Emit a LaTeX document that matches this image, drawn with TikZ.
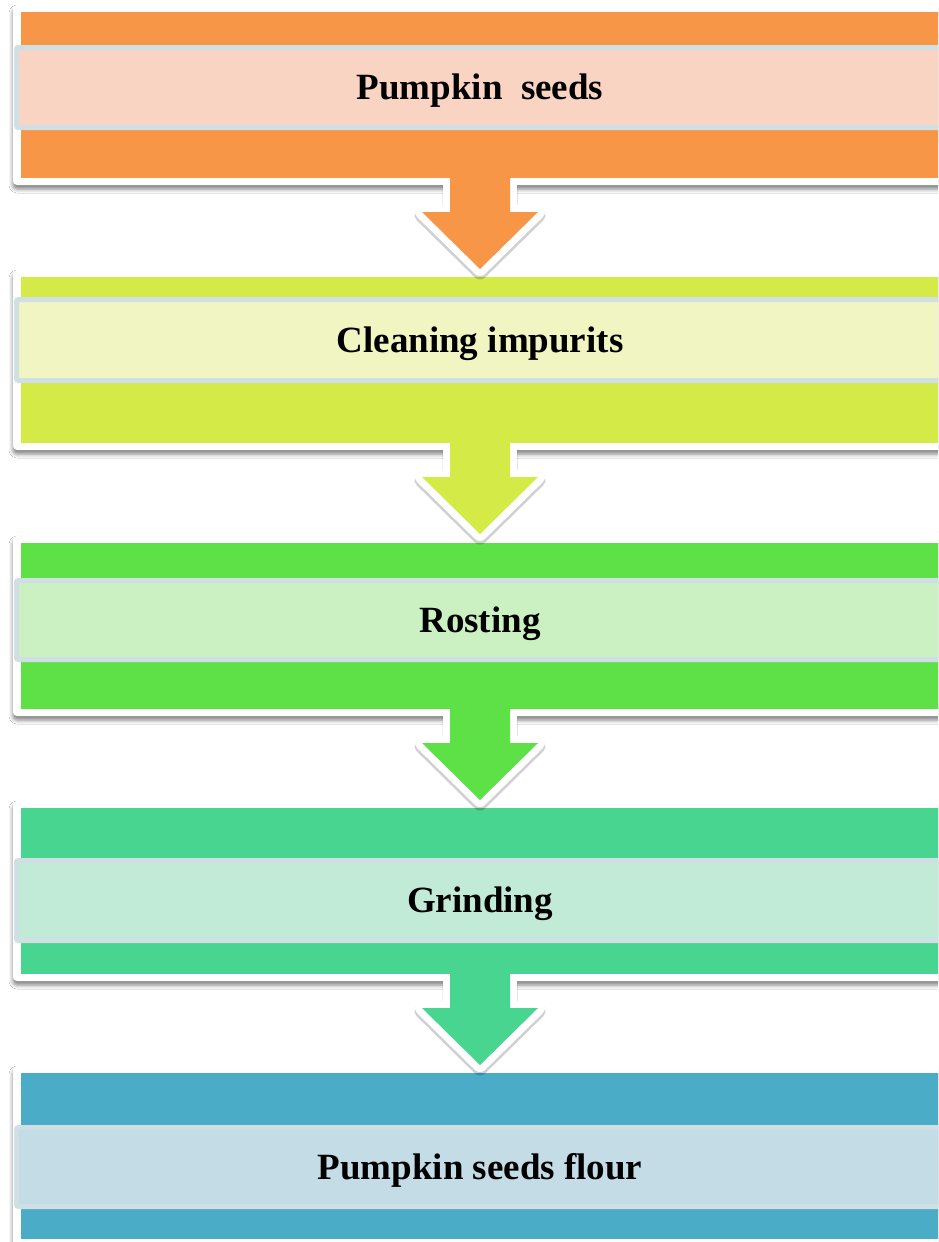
\documentclass[tikz,border=0pt]{standalone}
\usepackage{fontspec}
\setmainfont{Liberation Serif}
\usetikzlibrary{shadows.blur}
\definecolor{c1}{HTML}{F79646}\definecolor{l1}{HTML}{FAD4C2}
\definecolor{c2}{HTML}{D4EB47}\definecolor{l2}{HTML}{F0F5C2}
\definecolor{c3}{HTML}{5EE147}\definecolor{l3}{HTML}{CBF1C2}
\definecolor{c4}{HTML}{48D590}\definecolor{l4}{HTML}{C1EBD7}
\definecolor{c5}{HTML}{4AACC6}\definecolor{l5}{HTML}{C4DCE5}
\definecolor{bandline}{HTML}{D0DFE3}
\newcommand\flowblock[8]{%
  \path[frame] (13,#2-7) rectangle (960,#3+7);
  \fill[#6] (21,#2) rectangle (960,#3);
  \path[band, fill=#7] (16.5,#4+2.5) rectangle (960,#5-2.5);
  \node[lbl] (#1) at (480,{(#4+#5)/2+12}) {#8};
}
\newcommand\flowarrow[3]{%
  \coordinate (#1) at (480,#2);
  \draw[arrshadow] (450,#2+4) -- (450,#2+34) -- (422,#2+34) -- (480,#2+91) -- (538,#2+34) -- (510,#2+34) -- (510,#2+4);
  \draw[arrline] (450,#2) -- (450,#2+34) -- (422,#2+34) -- (480,#2+91) -- (538,#2+34) -- (510,#2+34) -- (510,#2);
  \fill[#3] (450,#2-1) -- (450,#2+34) -- (422,#2+34) -- (480,#2+91) -- (538,#2+34) -- (510,#2+34) -- (510,#2-1) -- cycle;
}
\begin{document}
\begin{tikzpicture}[x=1pt,y=-1pt,
  frame/.style={fill=white, rounded corners=4pt,
    blur shadow={shadow xshift=0pt, shadow yshift=-4pt, shadow blur radius=4pt, shadow opacity=50}},
  band/.style={draw=bandline, line width=5pt, rounded corners=2pt},
  lbl/.style={font=\fontsize{37}{44}\selectfont\bfseries, text=black, anchor=base},
  arrline/.style={draw=white, line width=14pt, line join=round, line cap=butt},
  arrshadow/.style={draw=black, opacity=0.18, line width=15pt, line join=round, line cap=butt, yshift=-3pt},
]
\useasboundingbox (0,0) rectangle (938,1242);
\clip (0,0) rectangle (938,1242);
\fill[white] (0,0) rectangle (938,1242);
\flowblock{b1}{12}{178}{45}{130}{c1}{l1}{Pumpkin\ \ seeds}
\flowblock{b2}{277}{443}{297}{383}{c2}{l2}{Cleaning impurits}
\flowblock{b3}{543}{709}{578}{662}{c3}{l3}{Rosting}
\flowblock{b4}{808}{974}{858}{943}{c4}{l4}{Grinding}
\flowblock{b5}{1073}{1239}{1125}{1209}{c5}{l5}{Pumpkin seeds flour}
\flowarrow{a1}{178}{c1}
\flowarrow{a2}{443}{c2}
\flowarrow{a3}{709}{c3}
\flowarrow{a4}{974}{c4}
\end{tikzpicture}
\end{document}
